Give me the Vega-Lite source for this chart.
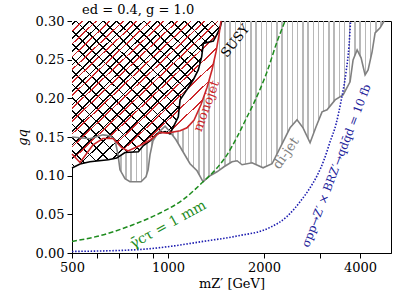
{
"$schema":"https://vega.github.io/schema/vega-lite/v6.json",
"width":319,"height":232,
"autosize":"none",
"padding":{"left":72,"top":21,"right":20,"bottom":55},
"background":"white",
"config":{"font":"DejaVu Serif","view":{"stroke":"black","strokeWidth":1},
 "axis":{"domainColor":"black","tickColor":"black","labelColor":"black","titleColor":"black","labelFont":"DejaVu Serif","titleFont":"DejaVu Serif","labelFontSize":13,"titleFontSize":13,"titleFontWeight":"normal","tickSize":5,"labelPadding":3,"grid":false,"labelFlush":false,"labelOverlap":false,"zindex":1}},
"title":{"text":"ed = 0.4, g = 1.0","anchor":"start","frame":"group","dx":10,"offset":6,"dy":8,"fontSize":13,"fontWeight":"normal","font":"DejaVu Serif","color":"black"},
"datasets":{
"susy":[{"m":500,"g":0.110},{"m":530,"g":0.115},{"m":569,"g":0.118},{"m":650,"g":0.1205},{"m":690,"g":0.1227},{"m":733,"g":0.130},{"m":807,"g":0.131},{"m":837,"g":0.139},{"m":878,"g":0.145},{"m":922,"g":0.154},{"m":979,"g":0.157},{"m":1014,"g":0.154},{"m":1077,"g":0.176},{"m":1091,"g":0.198},{"m":1145,"g":0.211},{"m":1200,"g":0.224},{"m":1245,"g":0.237},{"m":1275,"g":0.254},{"m":1290,"g":0.271},{"m":1387,"g":0.274},{"m":1421,"g":0.282},{"m":1456,"g":0.291},{"m":1473,"g":0.300}],
"monojet":[{"m":500,"g":0.128},{"m":530,"g":0.117},{"m":582,"g":0.140},{"m":625,"g":0.148},{"m":672,"g":0.148},{"m":717,"g":0.136},{"m":749,"g":0.132},{"m":817,"g":0.139},{"m":878,"g":0.146},{"m":944,"g":0.156},{"m":993,"g":0.155},{"m":1091,"g":0.158},{"m":1147,"g":0.162},{"m":1207,"g":0.172},{"m":1269,"g":0.192},{"m":1325,"g":0.214},{"m":1374,"g":0.237},{"m":1414,"g":0.260},{"m":1445,"g":0.282},{"m":1466,"g":0.300}],
"dijet":[{"m":500,"g":0.150},{"m":569,"g":0.1477},{"m":625,"g":0.1528},{"m":658,"g":0.1515},{"m":682,"g":0.1464},{"m":697,"g":0.127},{"m":707,"g":0.1076},{"m":733,"g":0.096},{"m":760,"g":0.0921},{"m":823,"g":0.0921},{"m":853,"g":0.0986},{"m":866,"g":0.1076},{"m":878,"g":0.127},{"m":897,"g":0.145},{"m":930,"g":0.1554},{"m":979,"g":0.1640},{"m":1014,"g":0.1567},{"m":1059,"g":0.1464},{"m":1114,"g":0.1309},{"m":1172,"g":0.1154},{"m":1233,"g":0.1063},{"m":1288,"g":0.0921},{"m":1354,"g":0.0999},{"m":1424,"g":0.105},{"m":1498,"g":0.1115},{"m":1587,"g":0.118},{"m":1646,"g":0.1193},{"m":1706,"g":0.1141},{"m":1834,"g":0.1167},{"m":1986,"g":0.1102},{"m":2119,"g":0.1154},{"m":2245,"g":0.136},{"m":2413,"g":0.1619},{"m":2538,"g":0.1722},{"m":2650,"g":0.1619},{"m":2788,"g":0.1425},{"m":2911,"g":0.1632},{"m":3040,"g":0.1825},{"m":3152,"g":0.1851},{"m":3340,"g":0.198},{"m":3538,"g":0.2045},{"m":3721,"g":0.2213},{"m":3803,"g":0.2497},{"m":3915,"g":0.2627},{"m":4029,"g":0.2523},{"m":4147,"g":0.2303},{"m":4238,"g":0.2368},{"m":4362,"g":0.2601},{"m":4458,"g":0.2846},{"m":4622,"g":0.2911},{"m":4757,"g":0.300}],
"ctau":[{"m":500,"g":0.015},{"m":612,"g":0.0224},{"m":777,"g":0.0366},{"m":944,"g":0.0517},{"m":1114,"g":0.0689},{"m":1288,"g":0.0921},{"m":1424,"g":0.110},{"m":1531,"g":0.127},{"m":1646,"g":0.150},{"m":1769,"g":0.176},{"m":1847,"g":0.1916},{"m":2044,"g":0.2345},{"m":2197,"g":0.2733},{"m":2328,"g":0.300}],
"xsec":[{"m":500,"g":0.002},{"m":800,"g":0.0043},{"m":1014,"g":0.0085},{"m":1288,"g":0.015},{"m":1646,"g":0.022},{"m":2088,"g":0.033},{"m":2362,"g":0.0473},{"m":2594,"g":0.0663},{"m":2788,"g":0.0844},{"m":2932,"g":0.0999},{"m":3084,"g":0.1205},{"m":3221,"g":0.1438},{"m":3364,"g":0.167},{"m":3487,"g":0.1967},{"m":3615,"g":0.2342},{"m":3694,"g":0.2688},{"m":3734,"g":0.300}]
},
"encoding":{
 "x":{"field":"m","type":"quantitative","scale":{"type":"log","domain":[500,5000],"nice":false},
  "axis":{"title":"mZ′ [GeV]","titlePadding":3,"values":[500,600,700,800,900,1000,2000,3000,4000],"format":"d","labelExpr":"(datum.value == 500 || datum.value == 1000 || datum.value == 2000 || datum.value == 4000) ? datum.label : ''"}},
 "y":{"field":"g","type":"quantitative","scale":{"domain":[0,0.3],"nice":false,"zero":false},
  "axis":{"title":"gq","titleFontStyle":"italic","titlePadding":6,"values":[0,0.05,0.1,0.15,0.2,0.25,0.3],"format":".2f"}}
},
"layer":[
{"data":{"name":"dijet"},"mark":{"type":"area","stroke":null,"fill":{"gradient":"linear","x1":0,"y1":0,"x2":1,"y2":0,"stops":[
{"offset":0.004,"color":"rgba(0,0,0,0)"},{"offset":0.004,"color":"#b8b8b8"},{"offset":0.009,"color":"#b8b8b8"},{"offset":0.009,"color":"rgba(0,0,0,0)"},
{"offset":0.0207,"color":"rgba(0,0,0,0)"},{"offset":0.0207,"color":"#b8b8b8"},{"offset":0.0257,"color":"#b8b8b8"},{"offset":0.0257,"color":"rgba(0,0,0,0)"},
{"offset":0.0373,"color":"rgba(0,0,0,0)"},{"offset":0.0373,"color":"#b8b8b8"},{"offset":0.0423,"color":"#b8b8b8"},{"offset":0.0423,"color":"rgba(0,0,0,0)"},
{"offset":0.054,"color":"rgba(0,0,0,0)"},{"offset":0.054,"color":"#b8b8b8"},{"offset":0.059,"color":"#b8b8b8"},{"offset":0.059,"color":"rgba(0,0,0,0)"},
{"offset":0.0707,"color":"rgba(0,0,0,0)"},{"offset":0.0707,"color":"#b8b8b8"},{"offset":0.0757,"color":"#b8b8b8"},{"offset":0.0757,"color":"rgba(0,0,0,0)"},
{"offset":0.0873,"color":"rgba(0,0,0,0)"},{"offset":0.0873,"color":"#b8b8b8"},{"offset":0.0923,"color":"#b8b8b8"},{"offset":0.0923,"color":"rgba(0,0,0,0)"},
{"offset":0.104,"color":"rgba(0,0,0,0)"},{"offset":0.104,"color":"#b8b8b8"},{"offset":0.109,"color":"#b8b8b8"},{"offset":0.109,"color":"rgba(0,0,0,0)"},
{"offset":0.1207,"color":"rgba(0,0,0,0)"},{"offset":0.1207,"color":"#b8b8b8"},{"offset":0.1257,"color":"#b8b8b8"},{"offset":0.1257,"color":"rgba(0,0,0,0)"},
{"offset":0.1373,"color":"rgba(0,0,0,0)"},{"offset":0.1373,"color":"#b8b8b8"},{"offset":0.1423,"color":"#b8b8b8"},{"offset":0.1423,"color":"rgba(0,0,0,0)"},
{"offset":0.154,"color":"rgba(0,0,0,0)"},{"offset":0.154,"color":"#b8b8b8"},{"offset":0.159,"color":"#b8b8b8"},{"offset":0.159,"color":"rgba(0,0,0,0)"},
{"offset":0.1707,"color":"rgba(0,0,0,0)"},{"offset":0.1707,"color":"#b8b8b8"},{"offset":0.1757,"color":"#b8b8b8"},{"offset":0.1757,"color":"rgba(0,0,0,0)"},
{"offset":0.1873,"color":"rgba(0,0,0,0)"},{"offset":0.1873,"color":"#b8b8b8"},{"offset":0.1923,"color":"#b8b8b8"},{"offset":0.1923,"color":"rgba(0,0,0,0)"},
{"offset":0.204,"color":"rgba(0,0,0,0)"},{"offset":0.204,"color":"#b8b8b8"},{"offset":0.209,"color":"#b8b8b8"},{"offset":0.209,"color":"rgba(0,0,0,0)"},
{"offset":0.2207,"color":"rgba(0,0,0,0)"},{"offset":0.2207,"color":"#b8b8b8"},{"offset":0.2257,"color":"#b8b8b8"},{"offset":0.2257,"color":"rgba(0,0,0,0)"},
{"offset":0.2373,"color":"rgba(0,0,0,0)"},{"offset":0.2373,"color":"#b8b8b8"},{"offset":0.2423,"color":"#b8b8b8"},{"offset":0.2423,"color":"rgba(0,0,0,0)"},
{"offset":0.254,"color":"rgba(0,0,0,0)"},{"offset":0.254,"color":"#b8b8b8"},{"offset":0.259,"color":"#b8b8b8"},{"offset":0.259,"color":"rgba(0,0,0,0)"},
{"offset":0.2707,"color":"rgba(0,0,0,0)"},{"offset":0.2707,"color":"#b8b8b8"},{"offset":0.2757,"color":"#b8b8b8"},{"offset":0.2757,"color":"rgba(0,0,0,0)"},
{"offset":0.2873,"color":"rgba(0,0,0,0)"},{"offset":0.2873,"color":"#b8b8b8"},{"offset":0.2923,"color":"#b8b8b8"},{"offset":0.2923,"color":"rgba(0,0,0,0)"},
{"offset":0.304,"color":"rgba(0,0,0,0)"},{"offset":0.304,"color":"#b8b8b8"},{"offset":0.309,"color":"#b8b8b8"},{"offset":0.309,"color":"rgba(0,0,0,0)"},
{"offset":0.3207,"color":"rgba(0,0,0,0)"},{"offset":0.3207,"color":"#b8b8b8"},{"offset":0.3257,"color":"#b8b8b8"},{"offset":0.3257,"color":"rgba(0,0,0,0)"},
{"offset":0.3373,"color":"rgba(0,0,0,0)"},{"offset":0.3373,"color":"#b8b8b8"},{"offset":0.3423,"color":"#b8b8b8"},{"offset":0.3423,"color":"rgba(0,0,0,0)"},
{"offset":0.354,"color":"rgba(0,0,0,0)"},{"offset":0.354,"color":"#b8b8b8"},{"offset":0.359,"color":"#b8b8b8"},{"offset":0.359,"color":"rgba(0,0,0,0)"},
{"offset":0.3707,"color":"rgba(0,0,0,0)"},{"offset":0.3707,"color":"#b8b8b8"},{"offset":0.3757,"color":"#b8b8b8"},{"offset":0.3757,"color":"rgba(0,0,0,0)"},
{"offset":0.3873,"color":"rgba(0,0,0,0)"},{"offset":0.3873,"color":"#b8b8b8"},{"offset":0.3923,"color":"#b8b8b8"},{"offset":0.3923,"color":"rgba(0,0,0,0)"},
{"offset":0.404,"color":"rgba(0,0,0,0)"},{"offset":0.404,"color":"#b8b8b8"},{"offset":0.409,"color":"#b8b8b8"},{"offset":0.409,"color":"rgba(0,0,0,0)"},
{"offset":0.4207,"color":"rgba(0,0,0,0)"},{"offset":0.4207,"color":"#b8b8b8"},{"offset":0.4257,"color":"#b8b8b8"},{"offset":0.4257,"color":"rgba(0,0,0,0)"},
{"offset":0.4373,"color":"rgba(0,0,0,0)"},{"offset":0.4373,"color":"#b8b8b8"},{"offset":0.4423,"color":"#b8b8b8"},{"offset":0.4423,"color":"rgba(0,0,0,0)"},
{"offset":0.454,"color":"rgba(0,0,0,0)"},{"offset":0.454,"color":"#b8b8b8"},{"offset":0.459,"color":"#b8b8b8"},{"offset":0.459,"color":"rgba(0,0,0,0)"},
{"offset":0.4707,"color":"rgba(0,0,0,0)"},{"offset":0.4707,"color":"#b8b8b8"},{"offset":0.4757,"color":"#b8b8b8"},{"offset":0.4757,"color":"rgba(0,0,0,0)"},
{"offset":0.4873,"color":"rgba(0,0,0,0)"},{"offset":0.4873,"color":"#b8b8b8"},{"offset":0.4923,"color":"#b8b8b8"},{"offset":0.4923,"color":"rgba(0,0,0,0)"},
{"offset":0.504,"color":"rgba(0,0,0,0)"},{"offset":0.504,"color":"#b8b8b8"},{"offset":0.509,"color":"#b8b8b8"},{"offset":0.509,"color":"rgba(0,0,0,0)"},
{"offset":0.5207,"color":"rgba(0,0,0,0)"},{"offset":0.5207,"color":"#b8b8b8"},{"offset":0.5257,"color":"#b8b8b8"},{"offset":0.5257,"color":"rgba(0,0,0,0)"},
{"offset":0.5373,"color":"rgba(0,0,0,0)"},{"offset":0.5373,"color":"#b8b8b8"},{"offset":0.5423,"color":"#b8b8b8"},{"offset":0.5423,"color":"rgba(0,0,0,0)"},
{"offset":0.554,"color":"rgba(0,0,0,0)"},{"offset":0.554,"color":"#b8b8b8"},{"offset":0.559,"color":"#b8b8b8"},{"offset":0.559,"color":"rgba(0,0,0,0)"},
{"offset":0.5707,"color":"rgba(0,0,0,0)"},{"offset":0.5707,"color":"#b8b8b8"},{"offset":0.5757,"color":"#b8b8b8"},{"offset":0.5757,"color":"rgba(0,0,0,0)"},
{"offset":0.5873,"color":"rgba(0,0,0,0)"},{"offset":0.5873,"color":"#b8b8b8"},{"offset":0.5923,"color":"#b8b8b8"},{"offset":0.5923,"color":"rgba(0,0,0,0)"},
{"offset":0.604,"color":"rgba(0,0,0,0)"},{"offset":0.604,"color":"#b8b8b8"},{"offset":0.609,"color":"#b8b8b8"},{"offset":0.609,"color":"rgba(0,0,0,0)"},
{"offset":0.6207,"color":"rgba(0,0,0,0)"},{"offset":0.6207,"color":"#b8b8b8"},{"offset":0.6257,"color":"#b8b8b8"},{"offset":0.6257,"color":"rgba(0,0,0,0)"},
{"offset":0.6373,"color":"rgba(0,0,0,0)"},{"offset":0.6373,"color":"#b8b8b8"},{"offset":0.6423,"color":"#b8b8b8"},{"offset":0.6423,"color":"rgba(0,0,0,0)"},
{"offset":0.654,"color":"rgba(0,0,0,0)"},{"offset":0.654,"color":"#b8b8b8"},{"offset":0.659,"color":"#b8b8b8"},{"offset":0.659,"color":"rgba(0,0,0,0)"},
{"offset":0.6707,"color":"rgba(0,0,0,0)"},{"offset":0.6707,"color":"#b8b8b8"},{"offset":0.6757,"color":"#b8b8b8"},{"offset":0.6757,"color":"rgba(0,0,0,0)"},
{"offset":0.6873,"color":"rgba(0,0,0,0)"},{"offset":0.6873,"color":"#b8b8b8"},{"offset":0.6923,"color":"#b8b8b8"},{"offset":0.6923,"color":"rgba(0,0,0,0)"},
{"offset":0.704,"color":"rgba(0,0,0,0)"},{"offset":0.704,"color":"#b8b8b8"},{"offset":0.709,"color":"#b8b8b8"},{"offset":0.709,"color":"rgba(0,0,0,0)"},
{"offset":0.7207,"color":"rgba(0,0,0,0)"},{"offset":0.7207,"color":"#b8b8b8"},{"offset":0.7257,"color":"#b8b8b8"},{"offset":0.7257,"color":"rgba(0,0,0,0)"},
{"offset":0.7373,"color":"rgba(0,0,0,0)"},{"offset":0.7373,"color":"#b8b8b8"},{"offset":0.7423,"color":"#b8b8b8"},{"offset":0.7423,"color":"rgba(0,0,0,0)"},
{"offset":0.754,"color":"rgba(0,0,0,0)"},{"offset":0.754,"color":"#b8b8b8"},{"offset":0.759,"color":"#b8b8b8"},{"offset":0.759,"color":"rgba(0,0,0,0)"},
{"offset":0.7707,"color":"rgba(0,0,0,0)"},{"offset":0.7707,"color":"#b8b8b8"},{"offset":0.7757,"color":"#b8b8b8"},{"offset":0.7757,"color":"rgba(0,0,0,0)"},
{"offset":0.7873,"color":"rgba(0,0,0,0)"},{"offset":0.7873,"color":"#b8b8b8"},{"offset":0.7923,"color":"#b8b8b8"},{"offset":0.7923,"color":"rgba(0,0,0,0)"},
{"offset":0.804,"color":"rgba(0,0,0,0)"},{"offset":0.804,"color":"#b8b8b8"},{"offset":0.809,"color":"#b8b8b8"},{"offset":0.809,"color":"rgba(0,0,0,0)"},
{"offset":0.8207,"color":"rgba(0,0,0,0)"},{"offset":0.8207,"color":"#b8b8b8"},{"offset":0.8257,"color":"#b8b8b8"},{"offset":0.8257,"color":"rgba(0,0,0,0)"},
{"offset":0.8373,"color":"rgba(0,0,0,0)"},{"offset":0.8373,"color":"#b8b8b8"},{"offset":0.8423,"color":"#b8b8b8"},{"offset":0.8423,"color":"rgba(0,0,0,0)"},
{"offset":0.854,"color":"rgba(0,0,0,0)"},{"offset":0.854,"color":"#b8b8b8"},{"offset":0.859,"color":"#b8b8b8"},{"offset":0.859,"color":"rgba(0,0,0,0)"},
{"offset":0.8707,"color":"rgba(0,0,0,0)"},{"offset":0.8707,"color":"#b8b8b8"},{"offset":0.8757,"color":"#b8b8b8"},{"offset":0.8757,"color":"rgba(0,0,0,0)"},
{"offset":0.8873,"color":"rgba(0,0,0,0)"},{"offset":0.8873,"color":"#b8b8b8"},{"offset":0.8923,"color":"#b8b8b8"},{"offset":0.8923,"color":"rgba(0,0,0,0)"},
{"offset":0.904,"color":"rgba(0,0,0,0)"},{"offset":0.904,"color":"#b8b8b8"},{"offset":0.909,"color":"#b8b8b8"},{"offset":0.909,"color":"rgba(0,0,0,0)"},
{"offset":0.9207,"color":"rgba(0,0,0,0)"},{"offset":0.9207,"color":"#b8b8b8"},{"offset":0.9257,"color":"#b8b8b8"},{"offset":0.9257,"color":"rgba(0,0,0,0)"},
{"offset":0.9373,"color":"rgba(0,0,0,0)"},{"offset":0.9373,"color":"#b8b8b8"},{"offset":0.9423,"color":"#b8b8b8"},{"offset":0.9423,"color":"rgba(0,0,0,0)"},
{"offset":0.954,"color":"rgba(0,0,0,0)"},{"offset":0.954,"color":"#b8b8b8"},{"offset":0.959,"color":"#b8b8b8"},{"offset":0.959,"color":"rgba(0,0,0,0)"},
{"offset":0.9707,"color":"rgba(0,0,0,0)"},{"offset":0.9707,"color":"#b8b8b8"},{"offset":0.9757,"color":"#b8b8b8"},{"offset":0.9757,"color":"rgba(0,0,0,0)"},
{"offset":0.9873,"color":"rgba(0,0,0,0)"},{"offset":0.9873,"color":"#b8b8b8"},{"offset":0.9923,"color":"#b8b8b8"},{"offset":0.9923,"color":"rgba(0,0,0,0)"}
]}},"encoding":{"y2":{"datum":0.3}}},
{"data":{"name":"monojet"},"mark":{"type":"area","fill":"white","stroke":null},"encoding":{"y2":{"datum":0.3}}},
{"data":{"name":"susy"},"mark":{"type":"area","stroke":null,"fill":{"gradient":"linear","x1":0,"y1":1,"x2":1,"y2":0,"stops":[
{"offset":0.0100,"color":"white"},{"offset":0.0100,"color":"black"},{"offset":0.0160,"color":"black"},{"offset":0.0160,"color":"white"},
{"offset":0.0555,"color":"white"},{"offset":0.0555,"color":"black"},{"offset":0.0615,"color":"black"},{"offset":0.0615,"color":"white"},
{"offset":0.1009,"color":"white"},{"offset":0.1009,"color":"black"},{"offset":0.1069,"color":"black"},{"offset":0.1069,"color":"white"},
{"offset":0.1464,"color":"white"},{"offset":0.1464,"color":"black"},{"offset":0.1524,"color":"black"},{"offset":0.1524,"color":"white"},
{"offset":0.1918,"color":"white"},{"offset":0.1918,"color":"black"},{"offset":0.1978,"color":"black"},{"offset":0.1978,"color":"white"},
{"offset":0.2373,"color":"white"},{"offset":0.2373,"color":"black"},{"offset":0.2433,"color":"black"},{"offset":0.2433,"color":"white"},
{"offset":0.2827,"color":"white"},{"offset":0.2827,"color":"black"},{"offset":0.2887,"color":"black"},{"offset":0.2887,"color":"white"},
{"offset":0.3282,"color":"white"},{"offset":0.3282,"color":"black"},{"offset":0.3342,"color":"black"},{"offset":0.3342,"color":"white"},
{"offset":0.3736,"color":"white"},{"offset":0.3736,"color":"black"},{"offset":0.3796,"color":"black"},{"offset":0.3796,"color":"white"},
{"offset":0.4191,"color":"white"},{"offset":0.4191,"color":"black"},{"offset":0.4251,"color":"black"},{"offset":0.4251,"color":"white"},
{"offset":0.4645,"color":"white"},{"offset":0.4645,"color":"black"},{"offset":0.4705,"color":"black"},{"offset":0.4705,"color":"white"},
{"offset":0.5100,"color":"white"},{"offset":0.5100,"color":"black"},{"offset":0.5160,"color":"black"},{"offset":0.5160,"color":"white"},
{"offset":0.5555,"color":"white"},{"offset":0.5555,"color":"black"},{"offset":0.5615,"color":"black"},{"offset":0.5615,"color":"white"},
{"offset":0.6009,"color":"white"},{"offset":0.6009,"color":"black"},{"offset":0.6069,"color":"black"},{"offset":0.6069,"color":"white"},
{"offset":0.6464,"color":"white"},{"offset":0.6464,"color":"black"},{"offset":0.6524,"color":"black"},{"offset":0.6524,"color":"white"},
{"offset":0.6918,"color":"white"},{"offset":0.6918,"color":"black"},{"offset":0.6978,"color":"black"},{"offset":0.6978,"color":"white"},
{"offset":0.7373,"color":"white"},{"offset":0.7373,"color":"black"},{"offset":0.7433,"color":"black"},{"offset":0.7433,"color":"white"},
{"offset":0.7827,"color":"white"},{"offset":0.7827,"color":"black"},{"offset":0.7887,"color":"black"},{"offset":0.7887,"color":"white"},
{"offset":0.8282,"color":"white"},{"offset":0.8282,"color":"black"},{"offset":0.8342,"color":"black"},{"offset":0.8342,"color":"white"},
{"offset":0.8736,"color":"white"},{"offset":0.8736,"color":"black"},{"offset":0.8796,"color":"black"},{"offset":0.8796,"color":"white"},
{"offset":0.9191,"color":"white"},{"offset":0.9191,"color":"black"},{"offset":0.9251,"color":"black"},{"offset":0.9251,"color":"white"},
{"offset":0.9645,"color":"white"},{"offset":0.9645,"color":"black"},{"offset":0.9705,"color":"black"},{"offset":0.9705,"color":"white"}
]}},"encoding":{"y2":{"datum":0.3}}},
{"data":{"name":"susy"},"mark":{"type":"area","stroke":null,"fill":{"gradient":"linear","x1":0,"y1":0,"x2":1,"y2":1,"stops":[
{"offset":0.0100,"color":"rgba(0,0,0,0)"},{"offset":0.0100,"color":"black"},{"offset":0.0160,"color":"black"},{"offset":0.0160,"color":"rgba(0,0,0,0)"},
{"offset":0.0555,"color":"rgba(0,0,0,0)"},{"offset":0.0555,"color":"black"},{"offset":0.0615,"color":"black"},{"offset":0.0615,"color":"rgba(0,0,0,0)"},
{"offset":0.1009,"color":"rgba(0,0,0,0)"},{"offset":0.1009,"color":"black"},{"offset":0.1069,"color":"black"},{"offset":0.1069,"color":"rgba(0,0,0,0)"},
{"offset":0.1464,"color":"rgba(0,0,0,0)"},{"offset":0.1464,"color":"black"},{"offset":0.1524,"color":"black"},{"offset":0.1524,"color":"rgba(0,0,0,0)"},
{"offset":0.1918,"color":"rgba(0,0,0,0)"},{"offset":0.1918,"color":"black"},{"offset":0.1978,"color":"black"},{"offset":0.1978,"color":"rgba(0,0,0,0)"},
{"offset":0.2373,"color":"rgba(0,0,0,0)"},{"offset":0.2373,"color":"black"},{"offset":0.2433,"color":"black"},{"offset":0.2433,"color":"rgba(0,0,0,0)"},
{"offset":0.2827,"color":"rgba(0,0,0,0)"},{"offset":0.2827,"color":"black"},{"offset":0.2887,"color":"black"},{"offset":0.2887,"color":"rgba(0,0,0,0)"},
{"offset":0.3282,"color":"rgba(0,0,0,0)"},{"offset":0.3282,"color":"black"},{"offset":0.3342,"color":"black"},{"offset":0.3342,"color":"rgba(0,0,0,0)"},
{"offset":0.3736,"color":"rgba(0,0,0,0)"},{"offset":0.3736,"color":"black"},{"offset":0.3796,"color":"black"},{"offset":0.3796,"color":"rgba(0,0,0,0)"},
{"offset":0.4191,"color":"rgba(0,0,0,0)"},{"offset":0.4191,"color":"black"},{"offset":0.4251,"color":"black"},{"offset":0.4251,"color":"rgba(0,0,0,0)"},
{"offset":0.4645,"color":"rgba(0,0,0,0)"},{"offset":0.4645,"color":"black"},{"offset":0.4705,"color":"black"},{"offset":0.4705,"color":"rgba(0,0,0,0)"},
{"offset":0.5100,"color":"rgba(0,0,0,0)"},{"offset":0.5100,"color":"black"},{"offset":0.5160,"color":"black"},{"offset":0.5160,"color":"rgba(0,0,0,0)"},
{"offset":0.5555,"color":"rgba(0,0,0,0)"},{"offset":0.5555,"color":"black"},{"offset":0.5615,"color":"black"},{"offset":0.5615,"color":"rgba(0,0,0,0)"},
{"offset":0.6009,"color":"rgba(0,0,0,0)"},{"offset":0.6009,"color":"black"},{"offset":0.6069,"color":"black"},{"offset":0.6069,"color":"rgba(0,0,0,0)"},
{"offset":0.6464,"color":"rgba(0,0,0,0)"},{"offset":0.6464,"color":"black"},{"offset":0.6524,"color":"black"},{"offset":0.6524,"color":"rgba(0,0,0,0)"},
{"offset":0.6918,"color":"rgba(0,0,0,0)"},{"offset":0.6918,"color":"black"},{"offset":0.6978,"color":"black"},{"offset":0.6978,"color":"rgba(0,0,0,0)"},
{"offset":0.7373,"color":"rgba(0,0,0,0)"},{"offset":0.7373,"color":"black"},{"offset":0.7433,"color":"black"},{"offset":0.7433,"color":"rgba(0,0,0,0)"},
{"offset":0.7827,"color":"rgba(0,0,0,0)"},{"offset":0.7827,"color":"black"},{"offset":0.7887,"color":"black"},{"offset":0.7887,"color":"rgba(0,0,0,0)"},
{"offset":0.8282,"color":"rgba(0,0,0,0)"},{"offset":0.8282,"color":"black"},{"offset":0.8342,"color":"black"},{"offset":0.8342,"color":"rgba(0,0,0,0)"},
{"offset":0.8736,"color":"rgba(0,0,0,0)"},{"offset":0.8736,"color":"black"},{"offset":0.8796,"color":"black"},{"offset":0.8796,"color":"rgba(0,0,0,0)"},
{"offset":0.9191,"color":"rgba(0,0,0,0)"},{"offset":0.9191,"color":"black"},{"offset":0.9251,"color":"black"},{"offset":0.9251,"color":"rgba(0,0,0,0)"},
{"offset":0.9645,"color":"rgba(0,0,0,0)"},{"offset":0.9645,"color":"black"},{"offset":0.9705,"color":"black"},{"offset":0.9705,"color":"rgba(0,0,0,0)"}
]}},"encoding":{"y2":{"datum":0.3}}},
{"data":{"name":"monojet"},"mark":{"type":"area","stroke":null,"fill":{"gradient":"linear","x1":0,"y1":0,"x2":1,"y2":1,"stops":[
{"offset":0.0327,"color":"rgba(0,0,0,0)"},{"offset":0.0327,"color":"#cc2529"},{"offset":0.0387,"color":"#cc2529"},{"offset":0.0387,"color":"rgba(0,0,0,0)"},
{"offset":0.0782,"color":"rgba(0,0,0,0)"},{"offset":0.0782,"color":"#cc2529"},{"offset":0.0842,"color":"#cc2529"},{"offset":0.0842,"color":"rgba(0,0,0,0)"},
{"offset":0.1236,"color":"rgba(0,0,0,0)"},{"offset":0.1236,"color":"#cc2529"},{"offset":0.1296,"color":"#cc2529"},{"offset":0.1296,"color":"rgba(0,0,0,0)"},
{"offset":0.1691,"color":"rgba(0,0,0,0)"},{"offset":0.1691,"color":"#cc2529"},{"offset":0.1751,"color":"#cc2529"},{"offset":0.1751,"color":"rgba(0,0,0,0)"},
{"offset":0.2145,"color":"rgba(0,0,0,0)"},{"offset":0.2145,"color":"#cc2529"},{"offset":0.2205,"color":"#cc2529"},{"offset":0.2205,"color":"rgba(0,0,0,0)"},
{"offset":0.2600,"color":"rgba(0,0,0,0)"},{"offset":0.2600,"color":"#cc2529"},{"offset":0.2660,"color":"#cc2529"},{"offset":0.2660,"color":"rgba(0,0,0,0)"},
{"offset":0.3054,"color":"rgba(0,0,0,0)"},{"offset":0.3054,"color":"#cc2529"},{"offset":0.3114,"color":"#cc2529"},{"offset":0.3114,"color":"rgba(0,0,0,0)"},
{"offset":0.3509,"color":"rgba(0,0,0,0)"},{"offset":0.3509,"color":"#cc2529"},{"offset":0.3569,"color":"#cc2529"},{"offset":0.3569,"color":"rgba(0,0,0,0)"},
{"offset":0.3963,"color":"rgba(0,0,0,0)"},{"offset":0.3963,"color":"#cc2529"},{"offset":0.4023,"color":"#cc2529"},{"offset":0.4023,"color":"rgba(0,0,0,0)"},
{"offset":0.4418,"color":"rgba(0,0,0,0)"},{"offset":0.4418,"color":"#cc2529"},{"offset":0.4478,"color":"#cc2529"},{"offset":0.4478,"color":"rgba(0,0,0,0)"},
{"offset":0.4872,"color":"rgba(0,0,0,0)"},{"offset":0.4872,"color":"#cc2529"},{"offset":0.4932,"color":"#cc2529"},{"offset":0.4932,"color":"rgba(0,0,0,0)"},
{"offset":0.5327,"color":"rgba(0,0,0,0)"},{"offset":0.5327,"color":"#cc2529"},{"offset":0.5387,"color":"#cc2529"},{"offset":0.5387,"color":"rgba(0,0,0,0)"},
{"offset":0.5782,"color":"rgba(0,0,0,0)"},{"offset":0.5782,"color":"#cc2529"},{"offset":0.5842,"color":"#cc2529"},{"offset":0.5842,"color":"rgba(0,0,0,0)"},
{"offset":0.6236,"color":"rgba(0,0,0,0)"},{"offset":0.6236,"color":"#cc2529"},{"offset":0.6296,"color":"#cc2529"},{"offset":0.6296,"color":"rgba(0,0,0,0)"},
{"offset":0.6691,"color":"rgba(0,0,0,0)"},{"offset":0.6691,"color":"#cc2529"},{"offset":0.6751,"color":"#cc2529"},{"offset":0.6751,"color":"rgba(0,0,0,0)"},
{"offset":0.7145,"color":"rgba(0,0,0,0)"},{"offset":0.7145,"color":"#cc2529"},{"offset":0.7205,"color":"#cc2529"},{"offset":0.7205,"color":"rgba(0,0,0,0)"},
{"offset":0.7600,"color":"rgba(0,0,0,0)"},{"offset":0.7600,"color":"#cc2529"},{"offset":0.7660,"color":"#cc2529"},{"offset":0.7660,"color":"rgba(0,0,0,0)"},
{"offset":0.8054,"color":"rgba(0,0,0,0)"},{"offset":0.8054,"color":"#cc2529"},{"offset":0.8114,"color":"#cc2529"},{"offset":0.8114,"color":"rgba(0,0,0,0)"},
{"offset":0.8509,"color":"rgba(0,0,0,0)"},{"offset":0.8509,"color":"#cc2529"},{"offset":0.8569,"color":"#cc2529"},{"offset":0.8569,"color":"rgba(0,0,0,0)"},
{"offset":0.8963,"color":"rgba(0,0,0,0)"},{"offset":0.8963,"color":"#cc2529"},{"offset":0.9023,"color":"#cc2529"},{"offset":0.9023,"color":"rgba(0,0,0,0)"},
{"offset":0.9418,"color":"rgba(0,0,0,0)"},{"offset":0.9418,"color":"#cc2529"},{"offset":0.9478,"color":"#cc2529"},{"offset":0.9478,"color":"rgba(0,0,0,0)"},
{"offset":0.9872,"color":"rgba(0,0,0,0)"},{"offset":0.9872,"color":"#cc2529"},{"offset":0.9932,"color":"#cc2529"},{"offset":0.9932,"color":"rgba(0,0,0,0)"}
]}},"encoding":{"y2":{"datum":0.3}}},
{"data":{"name":"dijet"},"mark":{"type":"line","color":"#808080","strokeWidth":1.6},"encoding":{}},
{"data":{"name":"susy"},"mark":{"type":"line","color":"black","strokeWidth":1.6},"encoding":{}},
{"data":{"name":"monojet"},"mark":{"type":"line","color":"#cc2529","strokeWidth":1.6},"encoding":{}},
{"data":{"name":"ctau"},"mark":{"type":"line","color":"#1e8c1e","strokeWidth":1.5,"strokeDash":[5,2.5],"interpolate":"monotone","clip":true},"encoding":{}},
{"data":{"name":"xsec"},"mark":{"type":"line","color":"#1c1cb0","strokeWidth":1.6,"strokeDash":[1.5,1.6],"interpolate":"monotone","clip":true},"encoding":{}},
{"data":{"values":[{"label":"SUSY","m":1625,"g":0.274}]},"mark":{"type":"text","angle":-52,"fontSize":13,"color":"black","align":"center","baseline":"middle"},"encoding":{"text":{"field":"label"}}},
{"data":{"values":[{"label":"monojet","m":1320,"g":0.19}]},"mark":{"type":"text","angle":-70,"fontSize":13,"color":"#cc2529","align":"center","baseline":"middle"},"encoding":{"text":{"field":"label"}}},
{"data":{"values":[{"label":"di-jet","m":2344,"g":0.129}]},"mark":{"type":"text","angle":-55,"fontSize":13.5,"color":"#808080","align":"center","baseline":"middle"},"encoding":{"text":{"field":"label"}}},
{"data":{"values":[{"label":"γ̄cτ = 1 mm","m":1002,"g":0.0366}]},"mark":{"type":"text","angle":-29,"fontSize":14,"color":"#1e8c1e","align":"center","baseline":"middle"},"encoding":{"text":{"field":"label"}}},
{"data":{"values":[{"label":"σpp→Z′ × BRZ′→qdq̄d = 10 fb","m":3388,"g":0.1125}]},"mark":{"type":"text","angle":-69,"fontSize":11.5,"color":"#22229a","align":"center","baseline":"middle"},"encoding":{"text":{"field":"label"}}}
]
}
